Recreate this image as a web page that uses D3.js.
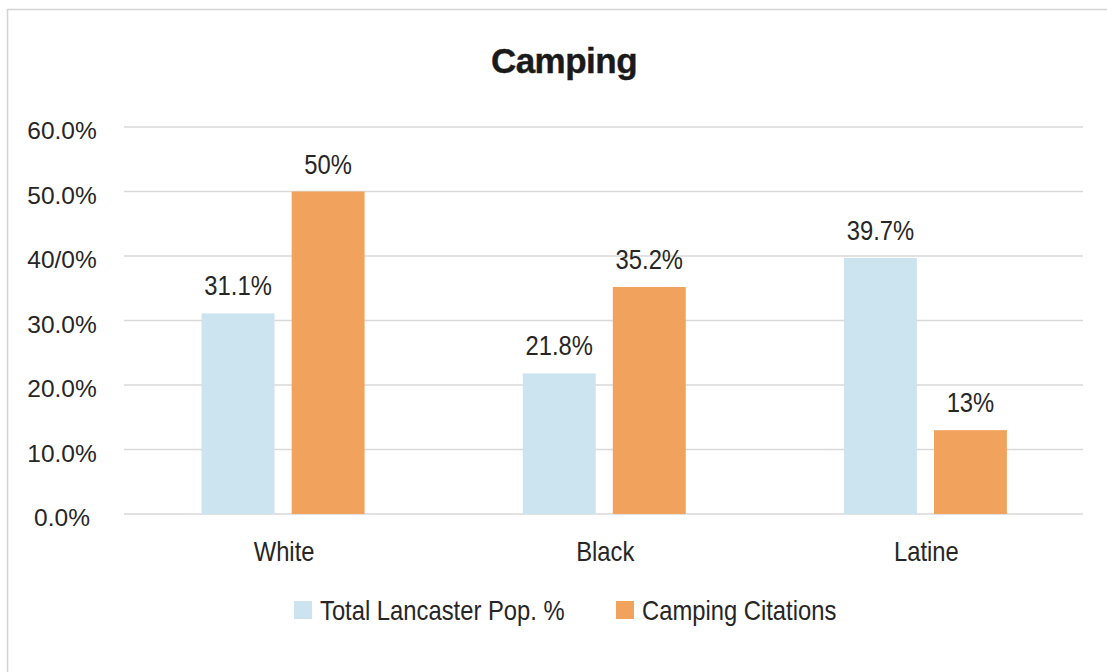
<!DOCTYPE html>
<html>
<head>
<meta charset="utf-8">
<script src="https://cdn.jsdelivr.net/npm/d3@7/dist/d3.min.js"></script>
<style>
  html, body { margin: 0; padding: 0; background: #fff; }
  svg { display: block; }
</style>
</head>
<body>
<svg id="chart" width="1107" height="672"></svg>
<script>
// Camping citations vs. Lancaster population share, by group
const categories = ["White", "Black", "Latine"];
const seriesNames = ["Total Lancaster Pop. %", "Camping Citations"];
const popShare = [31.1, 21.8, 39.7];
const citations = [50, 35.2, 13];
const popLabels = ["31.1%", "21.8%", "39.7%"];
const citationLabels = ["50%", "35.2%", "13%"];
const yTickValues = [0, 10, 20, 30, 40, 50, 60];
const yTickLabels = ["0.0%", "10.0%", "20.0%", "30.0%", "40/0%", "50.0%", "60.0%"];
const colors = ["#cce3f0", "#f1a35d"];

const svg = d3.select("#chart");
const textColor = "#262626";
const regular = "'Liberation Sans', Arial, sans-serif";
const condense = 0.85; // horizontal squeeze for the condensed label face

// outer frame
svg.append("rect")
  .attr("x", 7.5).attr("y", 9.5)
  .attr("width", 1200).attr("height", 700)
  .attr("fill", "#fff")
  .attr("stroke", "#d3d3d3").attr("stroke-width", 1.5);

const plotLeft = 124, plotRight = 1083;
const y = d3.scaleLinear().domain([0, 60]).range([514, 127]);
const x0 = d3.scaleBand().domain(categories).range([122.5, 1086]);
const x1 = d3.scaleBand().domain(seriesNames).range([-81.5, 81.5]).paddingInner(0.19);

// condensed text helper: places text at the group's origin squeezed horizontally
function condensedText(sel, anchor) {
  return sel.append("text")
    .attr("transform", `scale(${condense},1)`)
    .attr("text-anchor", anchor)
    .attr("font-family", regular)
    .attr("font-size", 28)
    .attr("fill", textColor);
}

// title
svg.append("text")
  .attr("x", 564).attr("y", 73)
  .attr("text-anchor", "middle")
  .attr("font-family", regular)
  .attr("font-weight", "bold")
  .attr("font-size", 35)
  .attr("letter-spacing", -0.5)
  .attr("fill", "#1a1a1a")
  .attr("stroke", "#1a1a1a").attr("stroke-width", 0.4)
  .text("Camping");

// gridlines
svg.append("g").selectAll("line")
  .data(yTickValues)
  .join("line")
  .attr("x1", plotLeft).attr("x2", plotRight)
  .attr("y1", d => y(d)).attr("y2", d => y(d))
  .attr("stroke", "#d9d9d9").attr("stroke-width", 1.5);

// y tick labels
svg.append("g").selectAll("text")
  .data(yTickValues)
  .join("text")
  .attr("x", 62)
  .attr("y", d => y(d) + 12)
  .attr("text-anchor", "middle")
  .attr("font-family", regular)
  .attr("font-size", 24.5)
  .attr("fill", textColor)
  .text((d, i) => yTickLabels[i]);

// bars
const seriesData = [popShare, citations];
const seriesLabels = [popLabels, citationLabels];
const groups = svg.append("g").selectAll("g")
  .data(categories)
  .join("g")
  .attr("transform", d => `translate(${x0(d) + x0.bandwidth() / 2},0)`);

seriesNames.forEach((name, s) => {
  groups.append("rect")
    .attr("x", x1(name))
    .attr("width", x1.bandwidth())
    .attr("y", (d, i) => y(seriesData[s][i]))
    .attr("height", (d, i) => y(0) - y(seriesData[s][i]))
    .attr("fill", colors[s]);

  groups.append("g")
    .attr("transform", (d, i) =>
      `translate(${x1(name) + x1.bandwidth() / 2},${y(seriesData[s][i]) - 18})`)
    .each(function(d, i) {
      condensedText(d3.select(this), "middle").text(seriesLabels[s][i]);
    });
});

// category labels
groups.append("g")
  .attr("transform", "translate(1,561)")
  .each(function(d) {
    condensedText(d3.select(this), "middle").text(d);
  });

// legend
const legendItems = [
  { name: seriesNames[0], color: colors[0], x: 294 },
  { name: seriesNames[1], color: colors[1], x: 616 }
];
const legend = svg.append("g").selectAll("g")
  .data(legendItems)
  .join("g")
  .attr("transform", d => `translate(${d.x},0)`);
legend.append("rect")
  .attr("x", 0).attr("y", 601)
  .attr("width", 18).attr("height", 18)
  .attr("fill", d => d.color);
legend.append("g")
  .attr("transform", "translate(26,620)")
  .each(function(d) {
    condensedText(d3.select(this), "start").text(d.name);
  });
</script>
</body>
</html>
